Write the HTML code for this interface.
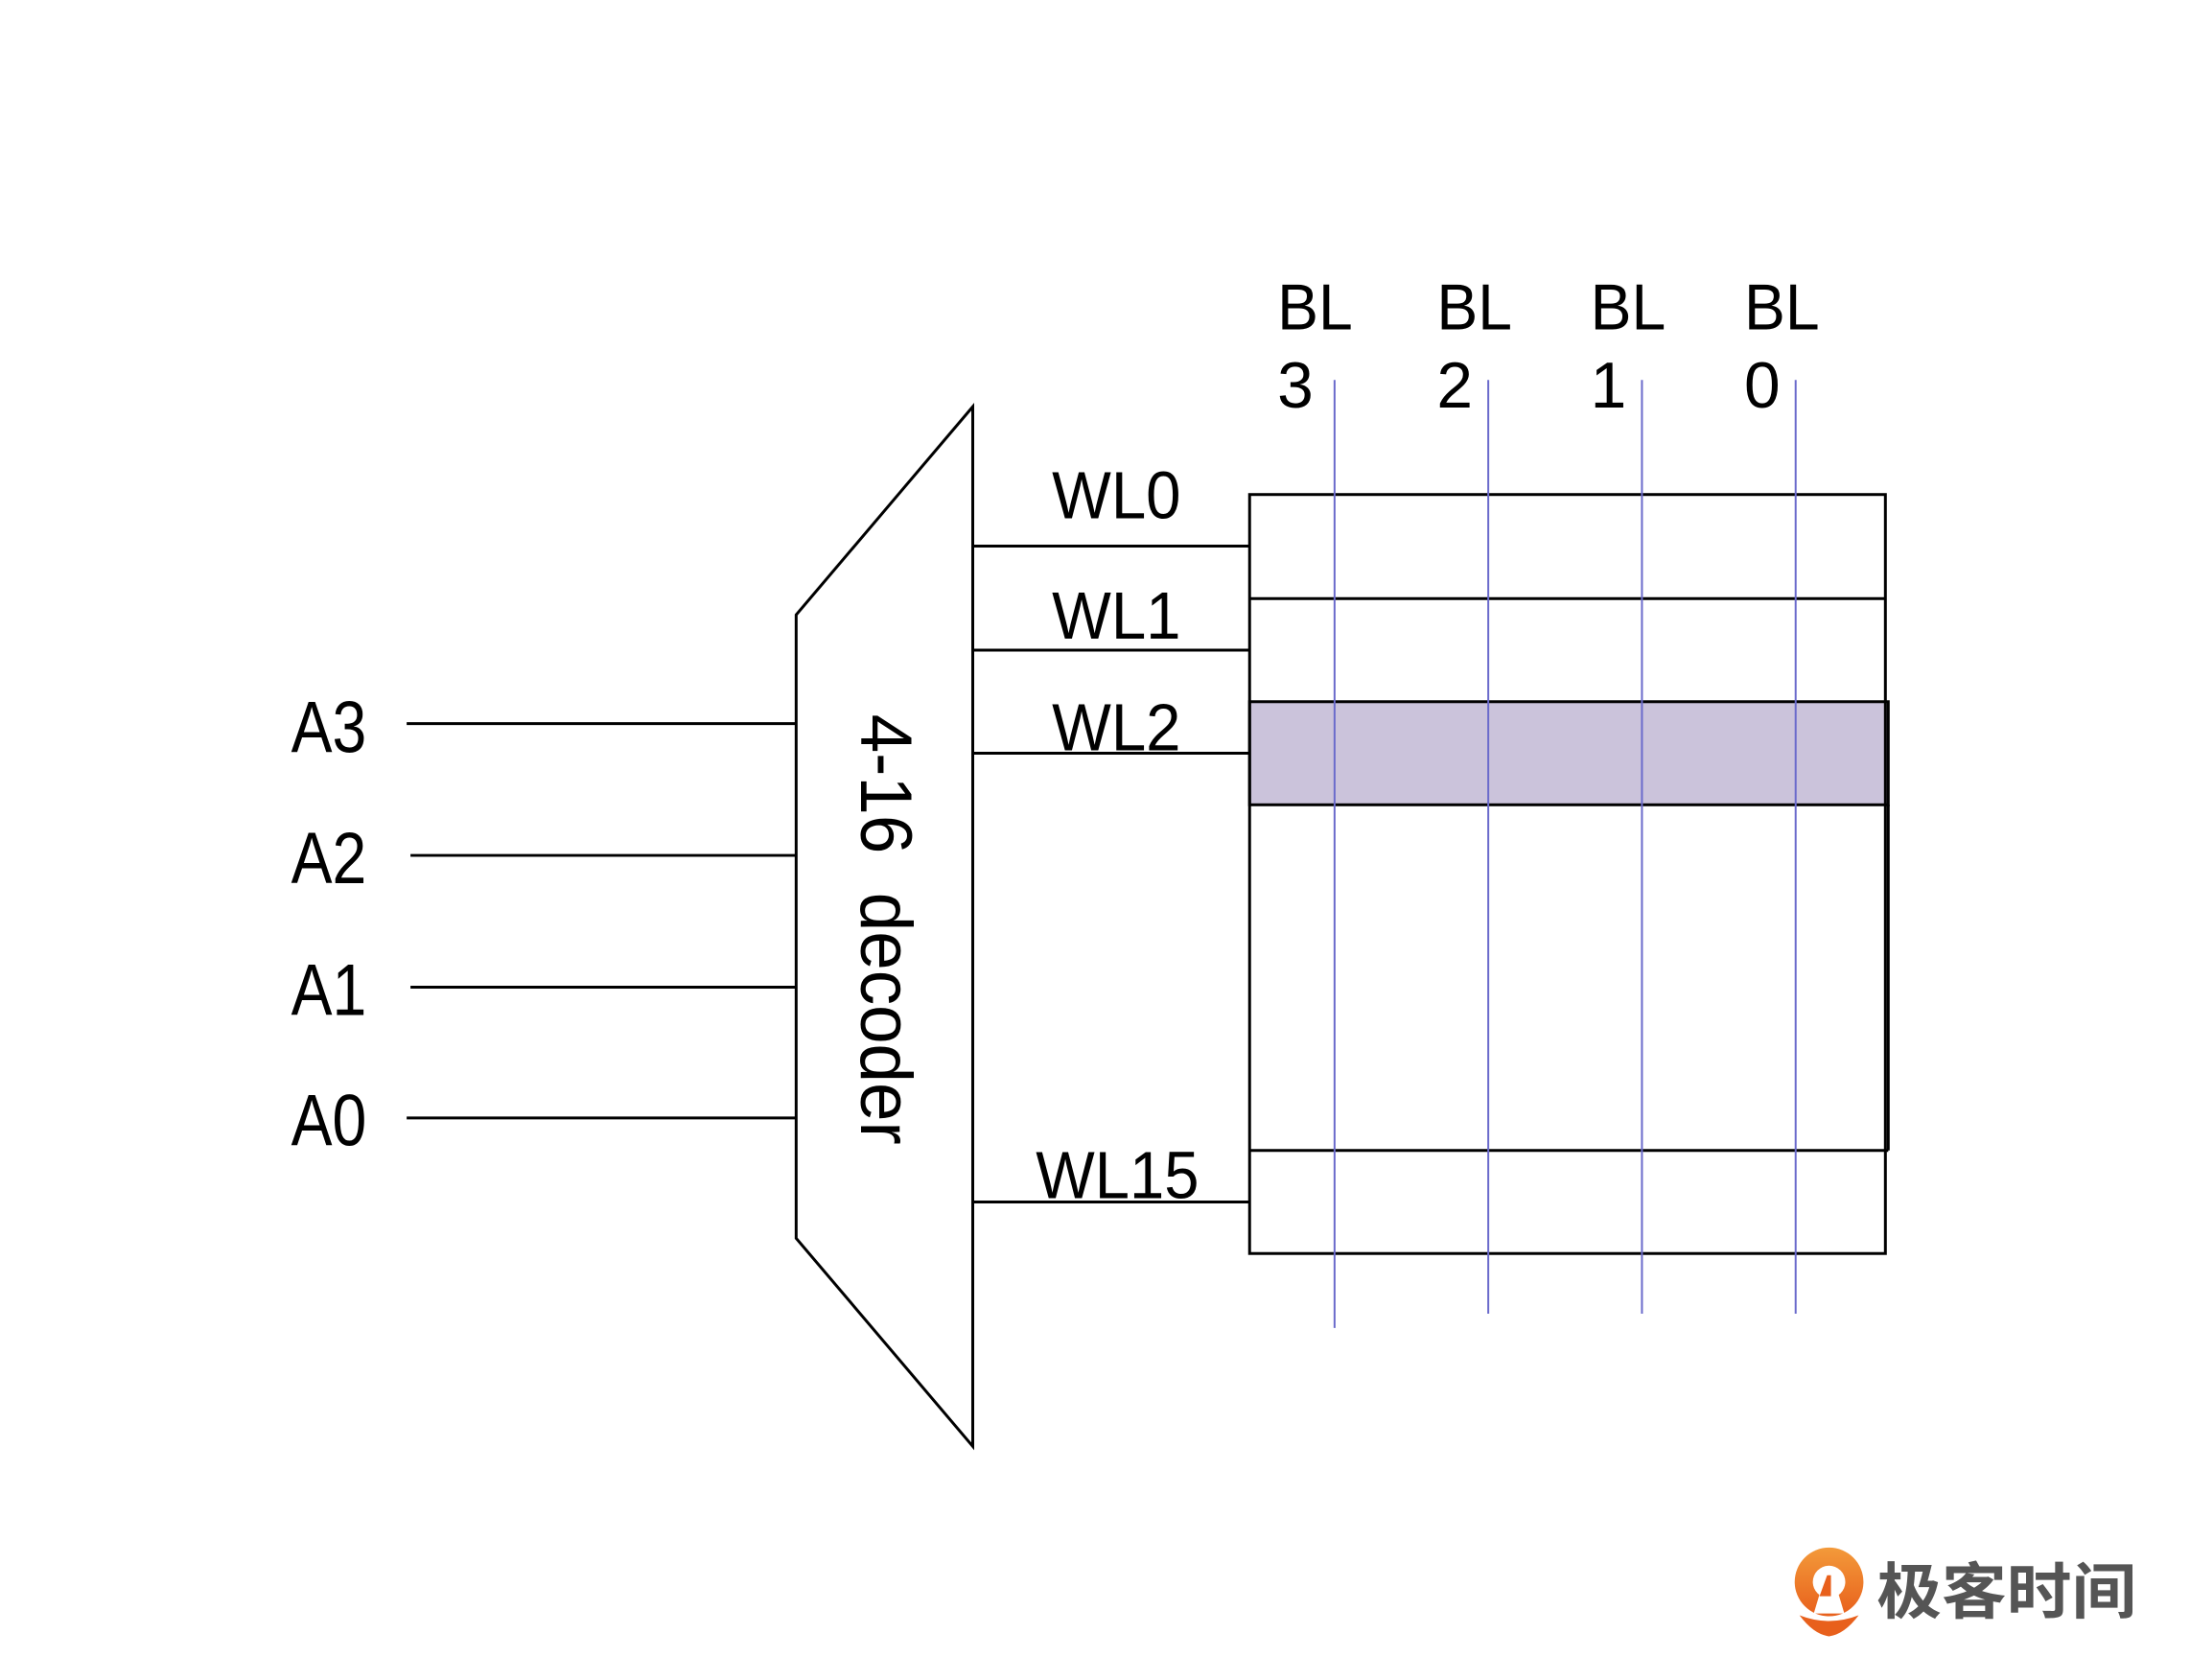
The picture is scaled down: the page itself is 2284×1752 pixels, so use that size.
<!DOCTYPE html>
<html><head><meta charset="utf-8"><style>
html,body{margin:0;padding:0;background:#fff}
svg{display:block}
text{font-family:"Liberation Sans","Noto Sans CJK SC",sans-serif;fill:#000}
</style></head><body>
<svg width="2284" height="1752" viewBox="0 0 2284 1752" xmlns="http://www.w3.org/2000/svg">
<rect width="2284" height="1752" fill="#fff"/>
<g transform="scale(0.9956)">
<!-- decoder -->
<polygon points="1019,426 1019,1515 834,1297 834,644" fill="#fff" stroke="#000" stroke-width="3"/>
<text transform="translate(902,748) rotate(90)" font-size="76" textLength="451" lengthAdjust="spacingAndGlyphs">4-16&#160;&#160;decoder</text>
<!-- address lines -->
<g stroke="#000" stroke-width="3">
<line x1="426" y1="758" x2="834" y2="758"/>
<line x1="430" y1="896" x2="834" y2="896"/>
<line x1="430" y1="1034" x2="834" y2="1034"/>
<line x1="426" y1="1171" x2="834" y2="1171"/>
</g>
<g font-size="76">
<text x="305" y="788" textLength="79" lengthAdjust="spacingAndGlyphs">A3</text>
<text x="305" y="925" textLength="79" lengthAdjust="spacingAndGlyphs">A2</text>
<text x="305" y="1063" textLength="79" lengthAdjust="spacingAndGlyphs">A1</text>
<text x="305" y="1200" textLength="79" lengthAdjust="spacingAndGlyphs">A0</text>
</g>
<!-- array -->
<rect x="1309" y="735" width="669" height="108" fill="#cbc3db"/>
<g stroke="#000" stroke-width="3" fill="none">
<rect x="1309" y="518" width="666" height="795"/>
<line x1="1309" y1="627" x2="1975" y2="627"/>
<rect x="1309" y="735" width="669" height="108"/>
<line x1="1309" y1="1205" x2="1978" y2="1205"/>
<line x1="1978" y1="843" x2="1978" y2="1205"/>
<!-- WL lines -->
<line x1="1019" y1="572" x2="1309" y2="572"/>
<line x1="1019" y1="681" x2="1309" y2="681"/>
<line x1="1019" y1="789" x2="1309" y2="789"/>
<line x1="1019" y1="1259" x2="1309" y2="1259"/>
</g>
<g font-size="70">
<text x="1102" y="543" textLength="135" lengthAdjust="spacingAndGlyphs">WL0</text>
<text x="1102" y="669" textLength="135" lengthAdjust="spacingAndGlyphs">WL1</text>
<text x="1102" y="786" textLength="135" lengthAdjust="spacingAndGlyphs">WL2</text>
<text x="1085" y="1255" textLength="171" lengthAdjust="spacingAndGlyphs">WL15</text>
</g>
<!-- BL lines -->
<g stroke="#6a6acb" stroke-width="2">
<line x1="1398" y1="398" x2="1398" y2="1391"/>
<line x1="1559" y1="398" x2="1559" y2="1376"/>
<line x1="1720" y1="398" x2="1720" y2="1376"/>
<line x1="1881" y1="398" x2="1881" y2="1376"/>
</g>
<g font-size="68">
<text x="1338" y="345" textLength="79" lengthAdjust="spacingAndGlyphs">BL</text><text x="1338" y="427">3</text>
<text x="1505" y="345" textLength="79" lengthAdjust="spacingAndGlyphs">BL</text><text x="1505" y="427">2</text>
<text x="1666" y="345" textLength="79" lengthAdjust="spacingAndGlyphs">BL</text><text x="1666" y="427">1</text>
<text x="1827" y="345" textLength="79" lengthAdjust="spacingAndGlyphs">BL</text><text x="1827" y="427">0</text>
</g>
<!-- logo -->
<defs><linearGradient id="g" x1="0" y1="0" x2="0" y2="1"><stop offset="0" stop-color="#f39a3a"/><stop offset="1" stop-color="#e8601c"/></linearGradient></defs>
<circle cx="1916" cy="1657" r="36" fill="url(#g)"/>
<circle cx="1916" cy="1657" r="17" fill="#fff"/>
<path d="M1900,1690 L1912,1650 L1920,1650 L1932,1690 Z" fill="#fff"/>
<path d="M1906,1672 L1914,1650 L1918,1650 L1918,1672 Z" fill="#e8601c"/>
<path d="M1885,1692 Q1916,1704 1947,1692 Q1932,1712 1916,1714 Q1900,1712 1885,1692 Z" fill="#e8601c"/>
<text x="1966" y="1690" font-size="64" textLength="272" lengthAdjust="spacingAndGlyphs" style="fill:#555;font-family:'Noto Sans CJK SC',sans-serif;font-weight:bold">极客时间</text>
</g>
</svg>
</body></html>
